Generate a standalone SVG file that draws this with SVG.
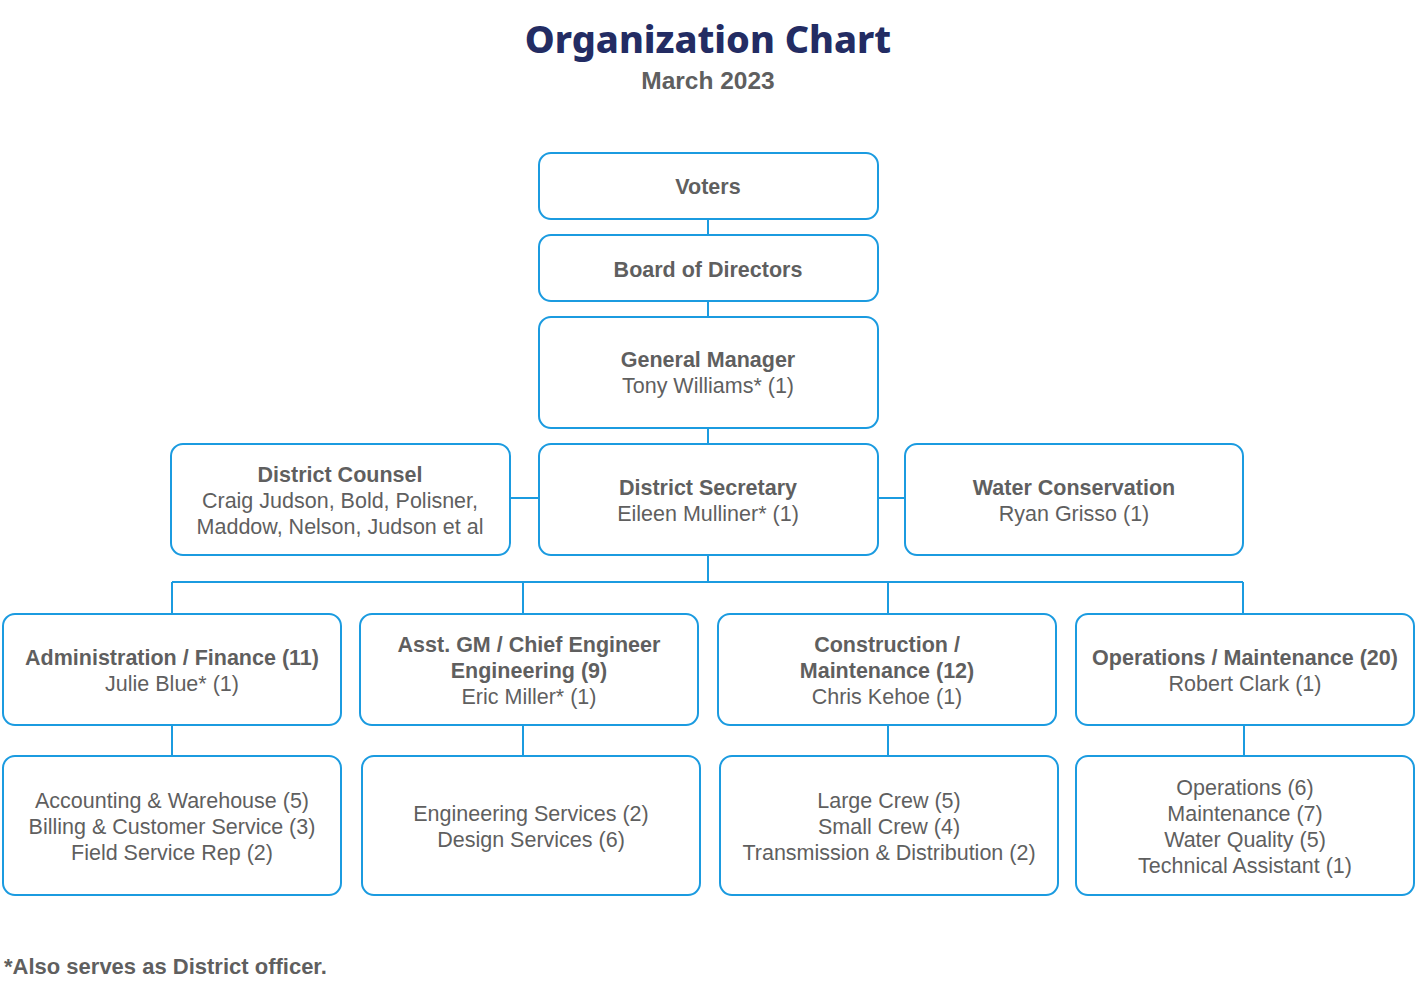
<svg xmlns="http://www.w3.org/2000/svg" width="1417" height="992" viewBox="0 0 1417 992">
<style>
.box{fill:#fff;stroke:#1b9be0;stroke-width:2}
.con{stroke:#1b9be0;stroke-width:2;fill:none}
text{font-family:"Liberation Sans",Arial,sans-serif;font-size:21.5px;fill:#5f5f5f;text-anchor:middle}
.b{font-weight:bold}
.title{font-family:"Noto Sans","Open Sans",sans-serif;font-weight:800;font-size:37.8px;fill:#232c63}
.sub{font-weight:bold;font-size:24.5px}
.foot{text-anchor:start;font-weight:bold;font-size:22px}
</style>
<rect width="1417" height="992" fill="#fff"/>
<text class="title" x="708" y="53">Organization Chart</text>
<text class="sub" x="708" y="89">March 2023</text>
<g id="connectors">
<path class="con" d="M708 219V235M708 301V317M708 428V444M510 498H539M878 498H905M708 555V582M172 582H1243M172 582V614M523 582V614M888 582V614M1243 582V614M172 725V756M523 725V756M888 725V756M1244 725V756"/>
</g>
<g id="voters"><rect class="box" x="539" y="153" width="339" height="66" rx="12"/><text class="b" x="708" y="194">Voters</text></g>
<g id="board"><rect class="box" x="539" y="235" width="339" height="66" rx="12"/><text class="b" x="708" y="277">Board of Directors</text></g>
<g id="gm"><rect class="box" x="539" y="317" width="339" height="111" rx="12"/><text class="b" x="708" y="367">General Manager</text><text x="708" y="393">Tony Williams* (1)</text></g>
<g id="counsel"><rect class="box" x="171" y="444" width="339" height="111" rx="12"/><text class="b" x="340" y="482">District Counsel</text><text x="340" y="508">Craig Judson, Bold, Polisner,</text><text x="340" y="534">Maddow, Nelson, Judson et al</text></g>
<g id="secretary"><rect class="box" x="539" y="444" width="339" height="111" rx="12"/><text class="b" x="708" y="495">District Secretary</text><text x="708" y="521">Eileen Mulliner* (1)</text></g>
<g id="water"><rect class="box" x="905" y="444" width="338" height="111" rx="12"/><text class="b" x="1074" y="495">Water Conservation</text><text x="1074" y="521">Ryan Grisso (1)</text></g>
<g id="admin"><rect class="box" x="3" y="614" width="338" height="111" rx="12"/><text class="b" x="172" y="665">Administration / Finance (11)</text><text x="172" y="691">Julie Blue* (1)</text></g>
<g id="asst"><rect class="box" x="360" y="614" width="338" height="111" rx="12"/><text class="b" x="529" y="652">Asst. GM / Chief Engineer</text><text class="b" x="529" y="678">Engineering (9)</text><text x="529" y="704">Eric Miller* (1)</text></g>
<g id="construction"><rect class="box" x="718" y="614" width="338" height="111" rx="12"/><text class="b" x="887" y="652">Construction /</text><text class="b" x="887" y="678">Maintenance (12)</text><text x="887" y="704">Chris Kehoe (1)</text></g>
<g id="operations"><rect class="box" x="1076" y="614" width="338" height="111" rx="12"/><text class="b" x="1245" y="665">Operations / Maintenance (20)</text><text x="1245" y="691">Robert Clark (1)</text></g>
<g id="admin-sub"><rect class="box" x="3" y="756" width="338" height="139" rx="12"/><text x="172" y="808">Accounting &amp; Warehouse (5)</text><text x="172" y="834">Billing &amp; Customer Service (3)</text><text x="172" y="860">Field Service Rep (2)</text></g>
<g id="eng-sub"><rect class="box" x="362" y="756" width="338" height="139" rx="12"/><text x="531" y="821">Engineering Services (2)</text><text x="531" y="847">Design Services (6)</text></g>
<g id="cons-sub"><rect class="box" x="720" y="756" width="338" height="139" rx="12"/><text x="889" y="808">Large Crew (5)</text><text x="889" y="834">Small Crew (4)</text><text x="889" y="860">Transmission &amp; Distribution (2)</text></g>
<g id="ops-sub"><rect class="box" x="1076" y="756" width="338" height="139" rx="12"/><text x="1245" y="795">Operations (6)</text><text x="1245" y="821">Maintenance (7)</text><text x="1245" y="847">Water Quality (5)</text><text x="1245" y="873">Technical Assistant (1)</text></g>
<text class="foot" x="4" y="974">*Also serves as District officer.</text>
</svg>
